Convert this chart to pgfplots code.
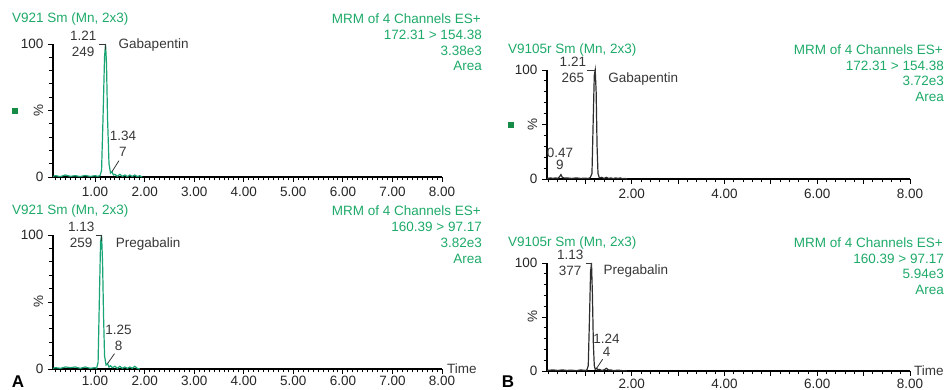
\documentclass[border=0pt]{standalone}
\usepackage{pgfplots}
\pgfplotsset{compat=1.18}
\usepackage{fontspec}
\setmainfont{Liberation Sans}
\usepackage{graphicx}
\definecolor{mgreen}{RGB}{30,170,105}
\definecolor{trace}{RGB}{25,165,115}
\definecolor{lbl}{RGB}{55,55,55}
\definecolor{sq}{RGB}{20,140,70}
\definecolor{btrace}{RGB}{45,45,45}
\newcommand{\fs}{\fontsize{13.5}{15.5}\selectfont}
\pgfplotsset{chrom/.style={
  scale only axis, anchor=south west,
  axis x line=bottom, axis y line=left,
  axis line style={-, line width=1.1pt, black},
  ymin=0, ymax=100,
  ytick={0,50,100}, yticklabels={0,\rotatebox{90}{\%},100},
  minor ytick={10,20,30,40,60,70,80,90},
  tick align=outside, major tick length=5pt, minor tick length=3.5pt,
  every tick/.style={black, line width=0.9pt},
  every tick label/.append style={font=\fs, text=black!85},
  xticklabel style={/pgf/number format/fixed, /pgf/number format/fixed zerofill, /pgf/number format/precision=2},
  /pgf/number format/assume math mode=true,
  clip=false,
}}
\begin{document}
\begin{tikzpicture}[x=1pt,y=1pt]
\useasboundingbox (0,0) rectangle (945,390);
\fs
% ---------- A top ----------
\begin{axis}[chrom, at={(53pt,213pt)}, width=389pt, height=133pt,
  xmin=0.15, xmax=8, xtick={1,...,8}, minor xtick={0.2,0.3,...,7.95}]
\addplot[trace, line width=1.2pt] coordinates {
(0.15,0.5)(0.2,1)(0.3,0.3)(0.4,1.5)(0.5,0.5)(0.6,1)(0.7,0.3)(0.8,1.2)(0.9,0.4)(1.0,1)(1.05,0.5)(1.1,1)
(1.13,5)(1.16,45)(1.19,90)(1.21,100)(1.23,85)(1.25,45)(1.28,10)(1.31,3)(1.34,4)(1.37,1.5)(1.4,2)
(1.45,0.5)(1.5,2)(1.55,0.5)(1.6,1.5)(1.65,0.3)(1.7,1.5)(1.75,0.4)(1.8,1.5)(1.85,0.3)(1.9,1)(1.95,0)};
\node[anchor=east, align=center, text=lbl, inner sep=0pt, xshift=-9pt] at (axis cs:1.21,100) {1.21\\249};
\draw[lbl, line width=0.8pt] ([xshift=-7pt]axis cs:1.21,100) -- (axis cs:1.21,100) -- ([yshift=-6pt]axis cs:1.21,100);
\node[anchor=west, text=lbl, inner sep=0pt, xshift=13pt, yshift=-1pt] at (axis cs:1.21,100) {Gabapentin};
\node[align=center, text=lbl, inner sep=0pt, xshift=11pt, yshift=28pt] at (axis cs:1.34,4) {1.34\\7};
\draw[lbl, line width=0.8pt] (axis cs:1.34,4) -- +(7pt,11pt);
\end{axis}
% ---------- A bottom ----------
\begin{axis}[chrom, at={(53pt,21pt)}, width=389pt, height=134pt,
  xmin=0.15, xmax=8, xtick={1,...,8}, minor xtick={0.2,0.3,...,7.95},
  xticklabel style={yshift=2.5pt}]
\addplot[trace, line width=1.2pt] coordinates {
(0.15,0.5)(0.2,1)(0.3,0.5)(0.4,1.5)(0.5,1)(0.6,1.5)(0.7,0.5)(0.8,1.5)(0.9,0.5)(1.0,1)(1.03,0.5)
(1.06,5)(1.09,60)(1.11,95)(1.13,100)(1.15,80)(1.17,40)(1.19,10)(1.22,3)(1.25,4)(1.28,1.5)(1.31,2.5)
(1.35,1)(1.4,2)(1.45,0.5)(1.5,2)(1.55,0.5)(1.6,1.5)(1.65,0.5)(1.7,1.5)(1.75,0.5)(1.8,2)(1.85,0.5)(1.9,0)};
\node[anchor=east, align=center, text=lbl, inner sep=0pt, xshift=-7pt] at (axis cs:1.13,100) {1.13\\259};
\draw[lbl, line width=0.8pt] ([xshift=-6pt]axis cs:1.13,100) -- (axis cs:1.13,100) -- ([yshift=-6pt]axis cs:1.13,100);
\node[anchor=west, text=lbl, inner sep=0pt, xshift=14pt, yshift=-9pt] at (axis cs:1.13,100) {Pregabalin};
\node[align=center, text=lbl, inner sep=0pt, xshift=11pt, yshift=26pt] at (axis cs:1.25,4) {1.25\\8};
\draw[lbl, line width=0.8pt] (axis cs:1.25,4) -- +(7pt,10pt);
\node[anchor=west, text=lbl, inner sep=0pt, xshift=5pt, yshift=0pt] at (rel axis cs:1,0) {Time};
\end{axis}
% ---------- B top ----------
\begin{axis}[chrom, at={(547pt,211pt)}, width=363pt, height=109pt,
  xmin=0.17, xmax=8, xtick={2,4,6,8}, extra x ticks={1,3,5,7}, extra x tick labels={},
  minor xtick={0.2,0.4,...,7.9}]
\addplot[btrace, line width=1.2pt] coordinates {
(0.17,0.5)(0.25,1)(0.3,0.5)(0.35,1)(0.4,0.5)(0.44,2)(0.47,4)(0.5,1.5)(0.55,0.8)(0.6,1)(0.7,0.5)(0.8,1)
(0.9,0.5)(1.0,0.8)(1.05,0.5)(1.1,1)(1.14,5)(1.17,60)(1.19,95)(1.21,100)(1.23,80)(1.25,30)(1.27,5)
(1.3,1)(1.35,1.5)(1.4,0.5)(1.45,1.5)(1.5,0.5)(1.55,1)(1.6,0.3)(1.65,1)(1.7,0.5)(1.75,1)(1.8,0.3)(1.85,0.5)(1.9,0)};
\node[anchor=east, align=center, text=lbl, inner sep=0pt, xshift=-9pt] at (axis cs:1.21,100) {1.21\\265};
\draw[lbl, line width=0.8pt] ([xshift=-8pt]axis cs:1.21,100) -- (axis cs:1.21,100) -- ([yshift=-6pt]axis cs:1.21,100);
\node[anchor=west, text=lbl, inner sep=0pt, xshift=13pt, yshift=-9pt] at (axis cs:1.21,100) {Gabapentin};
\node[align=center, text=lbl, inner sep=0pt, xshift=-1pt, yshift=16pt, font=\fontsize{13.5}{12.5}\selectfont] at (axis cs:0.47,4) {0.47\\9};
\end{axis}
% ---------- B bottom ----------
\begin{axis}[chrom, at={(547pt,19pt)}, width=363pt, height=108pt,
  xmin=0.17, xmax=8, xtick={2,4,6,8}, extra x ticks={1,3,5,7}, extra x tick labels={},
  minor xtick={0.2,0.4,...,7.9}, xticklabel style={yshift=1.5pt}]
\addplot[btrace, line width=1.2pt] coordinates {
(0.17,0.5)(0.3,1)(0.4,0.5)(0.5,1)(0.6,0.5)(0.7,0.8)(0.8,0.3)(0.9,1)(1.0,0.5)(1.03,1)(1.06,5)(1.09,55)
(1.11,92)(1.13,100)(1.15,70)(1.17,25)(1.19,5)(1.21,1.5)(1.24,2.5)(1.27,1)(1.3,1.5)(1.35,0.5)(1.4,1)
(1.45,2.5)(1.5,0.8)(1.55,1)(1.6,0.3)(1.7,0.8)(1.8,0.3)(1.9,0)};
\node[anchor=east, align=center, text=lbl, inner sep=0pt, xshift=-8pt] at (axis cs:1.13,100) {1.13\\377};
\draw[lbl, line width=0.8pt] ([xshift=-6pt]axis cs:1.13,100) -- (axis cs:1.13,100) -- ([yshift=-6pt]axis cs:1.13,100);
\node[anchor=west, text=lbl, inner sep=0pt, xshift=12pt, yshift=-8pt] at (axis cs:1.13,100) {Pregabalin};
\node[align=center, text=lbl, inner sep=0pt, xshift=10pt, yshift=23pt, font=\fontsize{13.5}{13}\selectfont] at (axis cs:1.24,2.5) {1.24\\4};
\draw[lbl, line width=0.8pt] (axis cs:1.24,2.5) -- +(6pt,9pt);
\node[anchor=west, text=lbl, inner sep=0pt, xshift=4pt, yshift=0pt] at (rel axis cs:1,0) {Time};
\end{axis}
% ---------- header texts ----------
\begin{scope}[every node/.style={text=mgreen, inner sep=0pt}]
\node[anchor=west] at (12,371) {V921 Sm (Mn, 2x3)};
\node[anchor=east] at (481,371) {MRM of 4 Channels ES+};
\node[anchor=east] at (482,355) {172.31 > 154.38};
\node[anchor=east] at (482,339) {3.38e3};
\node[anchor=east] at (482,324) {Area};
\node[anchor=west] at (12,179) {V921 Sm (Mn, 2x3)};
\node[anchor=east] at (481,179) {MRM of 4 Channels ES+};
\node[anchor=east] at (482,163) {160.39 > 97.17};
\node[anchor=east] at (482,147) {3.82e3};
\node[anchor=east] at (482,131) {Area};
\node[anchor=west] at (508,340) {V9105r Sm (Mn, 2x3)};
\node[anchor=east] at (943,340) {MRM of 4 Channels ES+};
\node[anchor=east] at (944,324) {172.31 > 154.38};
\node[anchor=east] at (944,309) {3.72e3};
\node[anchor=east] at (944,293) {Area};
\node[anchor=west] at (508,147) {V9105r Sm (Mn, 2x3)};
\node[anchor=east] at (943,147) {MRM of 4 Channels ES+};
\node[anchor=east] at (944,131) {160.39 > 97.17};
\node[anchor=east] at (944,116) {5.94e3};
\node[anchor=east] at (944,100) {Area};
\end{scope}
\fill[sq] (12,276) rectangle (18,282);
\fill[sq] (508,262) rectangle (514,268);
\node[anchor=center, inner sep=0pt, font=\fontsize{17}{17}\bfseries\selectfont] at (18,8) {A};
\node[anchor=center, inner sep=0pt, font=\fontsize{17}{17}\bfseries\selectfont] at (508,8) {B};
\end{tikzpicture}
\end{document}
